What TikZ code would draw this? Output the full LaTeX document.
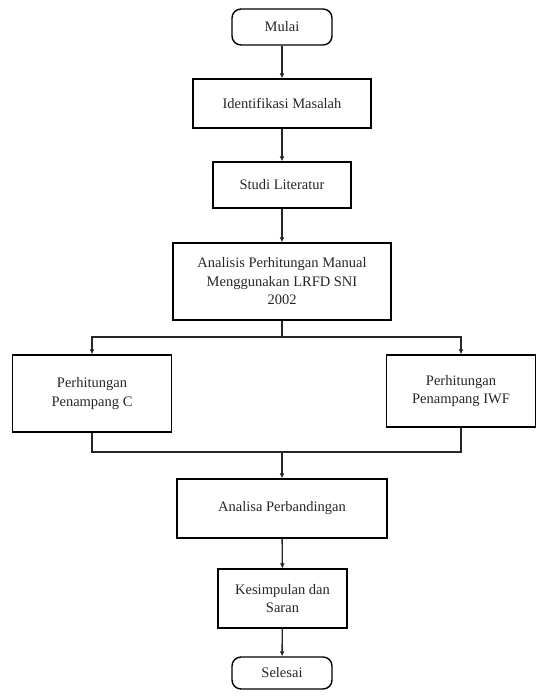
\documentclass[tikz,border=0pt]{standalone}
\usepackage{fontspec}
\setmainfont{Liberation Serif}
\usetikzlibrary{arrows.meta}
\begin{document}
\begin{tikzpicture}[x=1pt,y=-1pt,
  box/.style={draw=black, line width=1.4pt, inner sep=0pt, align=center,
    font=\fontsize{14.5}{18.5}\selectfont, text=black!85},
  term/.style={box, rounded corners=9pt},
  conn/.style={line width=1.4pt, draw=black!85},
  arr/.style={conn, -{Latex[length=5pt,width=5pt]}}]
\useasboundingbox (0,0) rectangle (537,697);
\node[term, minimum width=100pt, minimum height=36pt] (mulai) at (282,27) {Mulai};
\node[box, minimum width=178pt, minimum height=49pt] (ident) at (282,103.5) {Identifikasi Masalah};
\node[box, minimum width=138pt, minimum height=46pt] (studi) at (282,185) {Studi Literatur};
\node[box, minimum width=218pt, minimum height=77pt] (anal) at (282,281.5) {Analisis Perhitungan Manual\\Menggunakan LRFD SNI\\2002};
\node[box, minimum width=159pt, minimum height=77pt] (pc) at (92,393.5) {Perhitungan\\Penampang C};
\node[box, minimum width=149pt, minimum height=72pt] (piwf) at (461,391) {Perhitungan\\Penampang IWF};
\node[box, minimum width=210pt, minimum height=59pt] (banding) at (282,508.5) {Analisa Perbandingan};
\node[box, minimum width=129pt, minimum height=59pt] (simpul) at (282.5,598.5) {Kesimpulan dan\\Saran};
\node[term, minimum width=100pt, minimum height=32pt] (selesai) at (282,673) {Selesai};
\coordinate (split) at (282,337);
\coordinate (join) at (282,452);
\draw[arr] (mulai) -- (ident);
\draw[arr] (ident) -- (studi);
\draw[arr] (studi) -- (anal);
\draw[conn] (anal) -- (split);
\draw[arr] (split) -| (pc.north);
\draw[arr] (split) -| (piwf.north);
\draw[conn] (pc.south) |- (join);
\draw[conn] (piwf.south) |- (join);
\draw[arr] (join) -- (banding);
\draw[arr] (banding) -- (simpul);
\draw[arr] (simpul) -- (selesai);
\end{tikzpicture}
\end{document}
